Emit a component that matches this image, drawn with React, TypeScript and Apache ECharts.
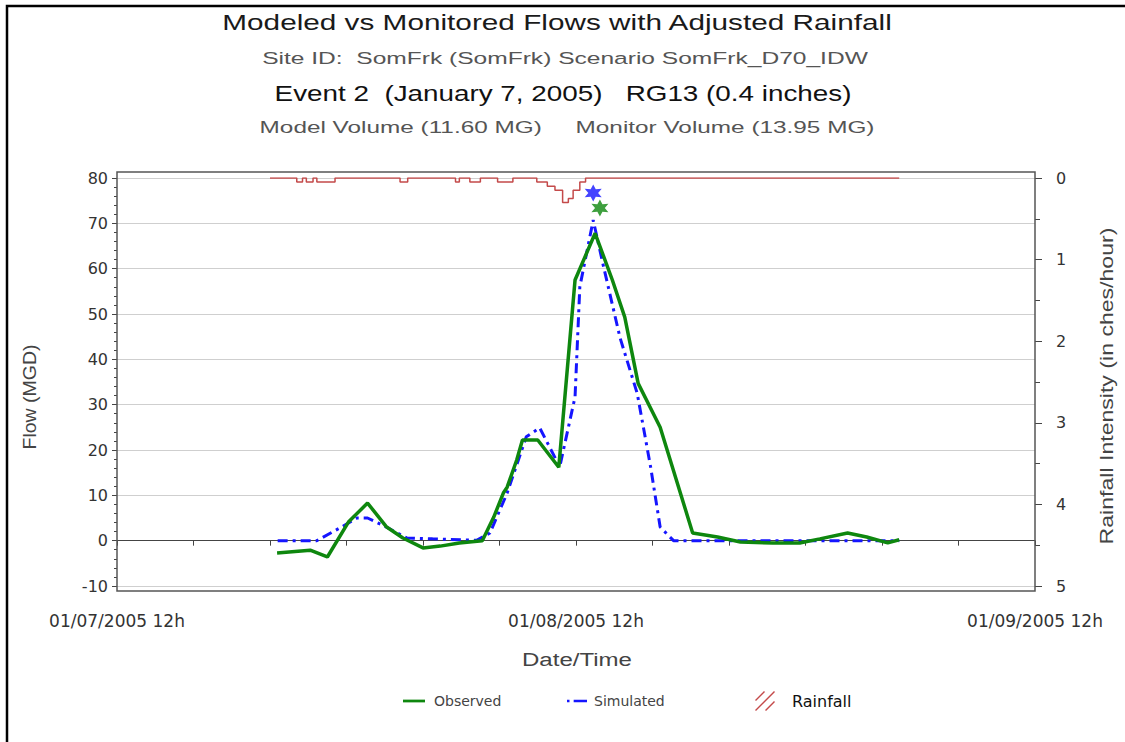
import React, { useEffect, useRef } from "react";
import * as echarts from "echarts";

// hours after 01/07/2005 12:00
const obsHours = [8.37, 10.1, 11.0, 12.1, 13.1, 14.1, 14.95, 16.0, 16.9, 17.9, 19.1, 19.7, 20.2, 20.4, 20.9, 21.2, 22.0, 23.1, 23.95, 25.0, 25.9, 26.55, 27.25, 28.4, 30.1, 31.4, 32.6, 34.3, 35.7, 36.75, 38.2, 39.2, 40.3, 40.9];
const obsFlow = [-2.7, -2.1, -3.6, 4.1, 8.3, 3.0, 0.6, -1.6, -1.2, -0.5, 0, 5.2, 10.5, 11.8, 17.8, 22.2, 22.2, 16.2, 57.5, 67.8, 57.5, 49.3, 34.7, 25.0, 1.7, 0.8, -0.3, -0.5, -0.5, 0.4, 1.7, 0.8, -0.5, 0.2];

const simHours = [8.4, 10.45, 11.65, 12.55, 13.1, 13.9, 15.15, 16.5, 18.8, 19.5, 20.4, 21.4, 22.1, 23.15, 23.95, 24.2, 24.9, 25.4, 26.3, 27.2, 27.9, 28.4, 29.1, 40.9];
const simFlow = [0, 0, 2.8, 5.0, 5.0, 3.4, 0.6, 0.4, 0.1, 1.7, 10.5, 22.9, 24.9, 16.3, 31.7, 56.0, 70.7, 61.2, 44.8, 32.5, 16.3, 3.0, 0, 0];

const rainHours = [8.0, 9.4, 9.7, 9.9, 10.25, 10.45, 11.4, 14.8, 15.2, 17.7, 17.9, 18.45, 19.0, 19.9, 20.7, 21.95, 22.5, 22.9, 23.3, 23.6, 23.85, 24.2, 24.5, 40.9];
const rainIntensity = [0, 0.05, 0, 0.05, 0, 0.05, 0, 0.05, 0, 0.05, 0, 0.05, 0, 0.05, 0, 0.05, 0.1, 0.15, 0.3, 0.25, 0.15, 0.05, 0, 0];

const simPeak: [number, number] = [24.9, 76.7];
const obsPeak: [number, number] = [25.25, 73.4];

const xLabels: Record<number, string> = { 0: "01/07/2005 12h", 24: "01/08/2005 12h", 48: "01/09/2005 12h" };

const FONT = "DejaVu Sans, Verdana, sans-serif";
const TFONT = "Liberation Sans, Arial, sans-serif";
const STAR = "path://M0,-10 L2.6,-4.4 L8.7,-5 L5,0 L8.7,5 L2.6,4.4 L0,10 L-2.6,4.4 L-8.7,5 L-5,0 L-8.7,-5 L-2.6,-4.4 Z";
const HATCH = "path://M0,9 L9,0 L10,1 L1,10 Z M0,19 L19,0 L20,1 L1,20 Z M10,19 L19,10 L20,11 L11,20 Z";
const SOLID = "path://M0,0 L24,0 L24,3 L0,3 Z";
const DASHDOT = "path://M0,0 L3,0 L3,3 L0,3 Z M8,0 L24,0 L24,3 L8,3 Z";

function fitText(text: string, font: string, width: number, x: number, y: number, fill: string, rotation = 0) {
  let sx = 1;
  try {
    const ctx = document.createElement("canvas").getContext("2d");
    if (ctx) {
      ctx.font = font;
      const w = ctx.measureText(text).width;
      if (w > 0) sx = width / w;
    }
  } catch (e) {
    sx = 1;
  }
  return {
    type: "text",
    x,
    y,
    rotation,
    scaleX: sx,
    silent: true,
    style: { text, font, fill, textAlign: "center", textVerticalAlign: "middle" },
  };
}

export default function App() {
  const ref = useRef<HTMLDivElement>(null);
  useEffect(() => {
    if (!ref.current) return;
    const chart = echarts.init(ref.current, undefined, { renderer: "svg" });
    const zip = (a: number[], b: number[]) => a.map((v, i) => [v, b[i]]);
    chart.setOption({
      animation: false,
      backgroundColor: "#fff",
      textStyle: { fontFamily: FONT },
      grid: { left: 117, right: 90, top: 178, bottom: 156, containLabel: false },
      xAxis: {
        type: "value",
        min: 0,
        max: 48,
        interval: 4,
        offset: 5,
        axisLine: { show: true, lineStyle: { color: "#444", width: 1 } },
        axisTick: { show: true, length: 5, lineStyle: { color: "#444" } },
        splitLine: { show: false },
        axisLabel: {
          margin: 21,
          fontSize: 17,
          color: "#333",
          fontFamily: FONT,
          formatter: (v: number) => xLabels[v] || "",
        },
      },
      yAxis: [
        {
          type: "value",
          min: -10,
          max: 80,
          interval: 10,
          axisLine: { show: false },
          axisTick: { show: true, length: 5, lineStyle: { color: "#444" } },
          minorTick: { show: true, splitNumber: 5, length: 3, lineStyle: { color: "#444" } },
          splitLine: { show: true, lineStyle: { color: "#cfcfcf", width: 1 } },
          axisLabel: { margin: 9, fontSize: 16, color: "#333", fontFamily: FONT },
        },
        {
          type: "value",
          min: 0,
          max: 5,
          interval: 1,
          inverse: true,
          position: "right",
          axisLine: { show: false },
          axisTick: { show: true, length: 7, lineStyle: { color: "#444" } },
          minorTick: { show: true, splitNumber: 2, length: 5, lineStyle: { color: "#444" } },
          splitLine: { show: false },
          axisLabel: { margin: 21, fontSize: 16, color: "#333", fontFamily: FONT },
        },
      ],
      legend: [
        {
          left: 398, top: 689, itemWidth: 22, itemHeight: 3, itemGap: 0,
          data: [{ name: "Observed", icon: SOLID, textStyle: { fontSize: 14, color: "#444", padding: [0, 0, 0, 4] } }],
        },
        {
          left: 562, top: 689, itemWidth: 20, itemHeight: 3, itemGap: 0,
          data: [{ name: "Simulated", icon: DASHDOT, textStyle: { fontSize: 14, color: "#444", padding: [0, 0, 0, 2] } }],
        },
        {
          left: 750, top: 686, itemWidth: 20, itemHeight: 20, itemGap: 0,
          data: [{ name: "Rainfall", icon: HATCH, textStyle: { fontSize: 16, color: "#111", padding: [0, 0, 0, 12] } }],
        },
      ],
      series: [
        {
          name: "Rainfall",
          type: "line",
          yAxisIndex: 1,
          step: "end",
          symbol: "none",
          data: zip(rainHours, rainIntensity),
          lineStyle: { color: "#c44a4a", width: 1.5 },
          itemStyle: { color: "#c44a4a" },
          z: 2,
        },
        {
          name: "Simulated",
          type: "line",
          symbol: "none",
          data: zip(simHours, simFlow),
          lineStyle: { color: "#1515ff", width: 3, type: [10, 5, 3, 5] },
          itemStyle: { color: "#1515ff" },
          z: 3,
          markLine: {
            silent: true,
            symbol: "none",
            label: { show: false },
            lineStyle: { color: "#555", width: 1.2, type: "solid" },
            data: [[{ coord: [24, -11.3] }, { coord: [24, 81.3] }]],
          },
        },
        {
          name: "Observed",
          type: "line",
          symbol: "none",
          data: zip(obsHours, obsFlow),
          lineStyle: { color: "#0e870e", width: 3.5 },
          itemStyle: { color: "#0e870e" },
          z: 4,
        },
        {
          name: "SimPeak",
          type: "scatter",
          symbol: STAR,
          symbolSize: 17,
          data: [simPeak],
          itemStyle: { color: "#1515ff" },
          z: 5,
        },
        {
          name: "ObsPeak",
          type: "scatter",
          symbol: STAR,
          symbolSize: 17,
          data: [obsPeak],
          itemStyle: { color: "#0e870e" },
          z: 5,
        },
      ],
      graphic: [
        { type: "rect", shape: { x: 7, y: 6, width: 1200, height: 800 }, style: { fill: "none", stroke: "#000", lineWidth: 2.5 }, silent: true },
        { type: "rect", shape: { x: 117, y: 172, width: 918, height: 419 }, style: { fill: "none", stroke: "#555", lineWidth: 1.5 }, silent: true, z: 10 },
        fitText("Modeled vs Monitored Flows with Adjusted Rainfall", `22px ${TFONT}`, 671, 557, 22, "#1a1a1a"),
        fitText("Site ID:  SomFrk (SomFrk) Scenario SomFrk_D70_IDW", `17px ${TFONT}`, 606, 565, 58, "#555"),
        fitText("Event 2  (January 7, 2005)   RG13 (0.4 inches)", `22px ${TFONT}`, 577, 563, 93, "#111"),
        fitText("Model Volume (11.60 MG)     Monitor Volume (13.95 MG)", `17px ${TFONT}`, 615, 567, 127, "#555"),
        fitText("Flow (MGD)", `18px ${TFONT}`, 105, 30, 397, "#444", Math.PI / 2),
        fitText("Rainfall Intensity (in ches/hour)", `18px ${TFONT}`, 317, 1106, 386, "#444", Math.PI / 2),
        fitText("Date/Time", `18px ${TFONT}`, 110, 577, 660, "#444"),
      ],
    });
    return () => chart.dispose();
  }, []);
  return <div ref={ref} style={{ position: "fixed", left: 0, top: 0, width: 1125, height: 742 }} />;
}
